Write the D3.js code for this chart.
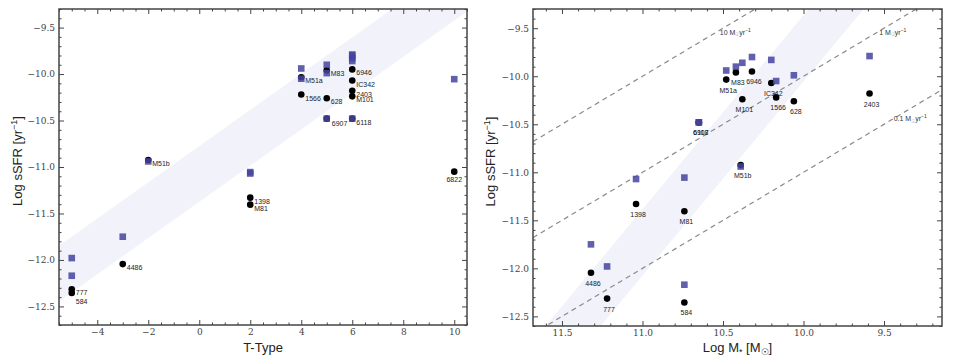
<!DOCTYPE html>
<html>
<head>
<meta charset="utf-8">
<script src="https://cdn.jsdelivr.net/npm/d3@7"></script>
<style>
body { margin: 0; background: #fff; }
svg { display: block; }
.tick text { font-family: "DejaVu Serif", serif; font-size: 9px; fill: #444; }
.tick line { stroke: #444; }
.gal-label { font-family: "Liberation Sans", Arial, sans-serif; font-size: 7px; fill: #222; }
.sfr-label { font-family: "Liberation Sans", Arial, sans-serif; font-size: 7px; fill: #333; }
.axis-title { font-family: "Liberation Sans", Arial, sans-serif; font-size: 13px; fill: #222; }
</style>
</head>
<body>
<div id="chart"></div>
<script>
// galaxy sample (same order in every array)
const galaxies = ["M51a", "M83", "6946", "IC342", "2403", "M101", "1566", "628", "6907", "6118",
                  "M51b", "1398", "M81", "4486", "777", "584", "6822"];
const tType    = [4, 5, 6, 6, 6, 6, 4, 5, 5, 6, -2, 2, 2, -3, -5, -5, 10];
const logMass  = [10.48, 10.42, 10.32, 10.20, 9.59, 10.38, 10.17, 10.06, 10.65, 10.65,
                  10.39, 11.04, 10.74, 11.32, 11.22, 10.74, null];
// black circles
const ssfrCircle = [-10.035, -9.96, -9.95, -10.07, -10.18, -10.24, -10.22, -10.26, -10.48, -10.48,
                    -10.925, -11.33, -11.405, -12.045, -12.315, -12.355, -11.05];
// blue squares
const ssfrSquare = [-9.94, -9.90, -9.80, -9.83, -9.79, -9.86, -10.05, -9.99, -10.48, -10.48,
                    -10.94, -11.07, -11.055, -11.75, -11.98, -12.17, -10.055];

// tick labels
const ttypeTicks = [-4, -2, 0, 2, 4, 6, 8, 10];
const massTicks = [11.5, 11.0, 10.5, 10.0, 9.5];
const ssfrTicks = [-9.5, -10.0, -10.5, -11.0, -11.5, -12.0, -12.5];

// shaded relations: centre line and vertical half width
const ttypeFit = {x0: -5, y0: -12.05, slope: 0.195, half: 0.3};
const massFit = {x0: 10.5, y0: -10.72, slope: -2.02, half: 0.345};

// constant SFR lines (Msun/yr)
const sfrValues = [10, 1, 0.1];
const sfrNames = ["10", "1", "0.1"];

let width = 954;
let height = 364;

let svg = d3.select("#chart").append("svg")
    .attr("width", width)
    .attr("height", height);

let bandColor = "#f2f2fa";
let squareColor = "rgb(68,68,160)";

// label nudges in pixels
let leftNudge = {"6822": [0, 10, "middle"], "584": [4, 11, "start"], "6907": [5, 7, "start"]};

function drawPanel(cfg) {
    let x = d3.scaleLinear().domain(cfg.xDomain).range([cfg.left, cfg.right]);
    let y = d3.scaleLinear().domain(cfg.yDomain).range([cfg.bottom, cfg.top]);

    svg.append("clipPath").attr("id", "clip-" + cfg.id)
      .append("rect")
        .attr("x", cfg.left).attr("y", cfg.top)
        .attr("width", cfg.right - cfg.left).attr("height", cfg.bottom - cfg.top);

    let plot = svg.append("g").attr("clip-path", "url(#clip-" + cfg.id + ")");

    // band
    let fit = cfg.fit;
    let line = v => fit.y0 + fit.slope * (v - fit.x0);
    let area = d3.area()
        .x(d => x(d))
        .y0(d => y(line(d) - fit.half))
        .y1(d => y(line(d) + fit.half));
    plot.append("path").datum(cfg.xDomain).attr("d", area).attr("fill", bandColor);

    // dashed constant SFR lines
    if (cfg.sfr) {
        sfrValues.forEach(s => {
            let f = v => Math.log10(s) - v;
            plot.append("line")
                .attr("x1", x(cfg.xDomain[0])).attr("y1", y(f(cfg.xDomain[0])))
                .attr("x2", x(cfg.xDomain[1])).attr("y2", y(f(cfg.xDomain[1])))
                .attr("stroke", "#8a8a8a")
                .attr("stroke-width", 1.2)
                .attr("stroke-dasharray", "5,4");
        });
    }

    let idx = galaxies.map((g, i) => i).filter(i => cfg.xs[i] != null);

    plot.append("g").selectAll("circle")
        .data(idx)
      .enter().append("circle")
        .attr("cx", i => x(cfg.xs[i]))
        .attr("cy", i => y(ssfrCircle[i]))
        .attr("r", 3.3)
        .attr("fill", "#000");

    plot.append("g").selectAll("text")
        .data(idx)
      .enter().append("text")
        .attr("class", "gal-label")
        .attr("x", i => x(cfg.xs[i]) + cfg.nudge(galaxies[i])[0])
        .attr("y", i => y(ssfrCircle[i]) + cfg.nudge(galaxies[i])[1])
        .attr("text-anchor", i => cfg.nudge(galaxies[i])[2])
        .text(i => galaxies[i]);

    plot.append("g").selectAll("rect")
        .data(idx)
      .enter().append("rect")
        .attr("x", i => x(cfg.xs[i]) - 3.3)
        .attr("y", i => y(ssfrSquare[i]) - 3.3)
        .attr("width", 6.6)
        .attr("height", 6.6)
        .attr("fill", squareColor)
        .attr("fill-opacity", 0.85);

    // sfr line labels
    if (cfg.sfr) {
        cfg.sfrLabels.forEach((p, k) => {
            let t = svg.append("text").attr("class", "sfr-label")
                .attr("x", x(p[0])).attr("y", y(p[1]));
            t.append("tspan").text(sfrNames[k] + " M");
            t.append("tspan").attr("dy", 1.5).attr("font-size", "5px").attr("fill", "#aaa").text("\u2609");
            t.append("tspan").attr("dy", -1.5).text("yr");
            t.append("tspan").attr("dy", -3).attr("font-size", "5px").text("\u22121");
        });
    }

    // axes, ticks inside on all four sides
    let axes = [
        [d3.axisBottom(x), "translate(0," + cfg.bottom + ")", cfg.xMajor, cfg.xMinor, true, cfg.xFormat],
        [d3.axisTop(x), "translate(0," + cfg.top + ")", cfg.xMajor, cfg.xMinor, false],
        [d3.axisLeft(y), "translate(" + cfg.left + ",0)", ssfrTicks, cfg.yMinor, true, d3.format(".1f")],
        [d3.axisRight(y), "translate(" + cfg.right + ",0)", ssfrTicks, cfg.yMinor, false]
    ];
    axes.forEach(a => {
        let major = a[0].tickValues(a[2]).tickSize(-5).tickPadding(4)
            .tickFormat(a[4] ? a[5] : "");
        let gA = svg.append("g").attr("transform", a[1]).call(major);
        gA.select(".domain").remove();
        gA.selectAll("text").attr("fill", "#444").attr("font-family", "DejaVu Serif").attr("font-size", 9);

        let gM = svg.append("g").attr("transform", a[1])
            .call(a[0].tickValues(a[3]).tickSize(-2.5).tickFormat(""));
        gM.select(".domain").remove();
    });

    svg.append("rect")
        .attr("x", cfg.left).attr("y", cfg.top)
        .attr("width", cfg.right - cfg.left).attr("height", cfg.bottom - cfg.top)
        .attr("fill", "none")
        .attr("stroke", "#444")
        .attr("stroke-width", 1.5);

    // axis titles
    let xt = svg.append("text").attr("class", "axis-title")
        .attr("x", (cfg.left + cfg.right) / 2)
        .attr("y", 352)
        .attr("text-anchor", "middle");
    cfg.xTitle(xt);

    let yt = svg.append("text").attr("class", "axis-title")
        .attr("transform", "translate(" + cfg.yTitleX + "," + ((cfg.top + cfg.bottom) / 2 - 6) + ") rotate(-90)")
        .attr("text-anchor", "middle");
    yt.append("tspan").text("Log sSFR [yr");
    yt.append("tspan").attr("dy", -5).attr("font-size", "9px").text("\u22121");
    yt.append("tspan").attr("dy", 5).text("]");
}

let notHalf = v => Math.abs(v * 2 - Math.round(v * 2)) > 1e-6;

drawPanel({
    id: "left",
    left: 59, right: 467, top: 9, bottom: 325,
    xDomain: [-5.5, 10.5], yDomain: [-12.7, -9.3],
    xs: tType,
    fit: ttypeFit,
    sfr: false,
    xMajor: ttypeTicks,
    xMinor: d3.range(-5.5, 10.51, 0.5).filter(v => v % 2 != 0),
    yMinor: d3.range(-12.7, -9.29, 0.1).map(v => Math.round(v * 10) / 10).filter(notHalf),
    xFormat: d3.format("d"),
    nudge: n => leftNudge[n] || [4, 6, "start"],
    yTitleX: 22,
    xTitle: t => t.text("T-Type")
});

drawPanel({
    id: "right",
    left: 533, right: 942, top: 9, bottom: 326,
    xDomain: [11.68, 9.14], yDomain: [-12.6, -9.3],
    xs: logMass,
    fit: massFit,
    sfr: true,
    sfrLabels: [[10.52, -9.57], [9.53, -9.57], [9.44, -10.47]],
    xMajor: massTicks,
    xMinor: d3.range(9.2, 11.65, 0.1).map(v => Math.round(v * 10) / 10).filter(notHalf),
    yMinor: d3.range(-12.6, -9.29, 0.1).map(v => Math.round(v * 10) / 10).filter(notHalf),
    xFormat: d3.format(".1f"),
    nudge: n => [2, 13, "middle"],
    yTitleX: 495,
    xTitle: t => {
        t.append("tspan").text("Log M");
        t.append("tspan").attr("dy", 3).attr("font-size", "9px").text("*");
        t.append("tspan").attr("dy", -3).text(" [M");
        t.append("tspan").attr("dy", 3).attr("font-size", "9px").text("\u2609");
        t.append("tspan").attr("dy", -3).text("]");
    }
});
</script>
</body>
</html>
